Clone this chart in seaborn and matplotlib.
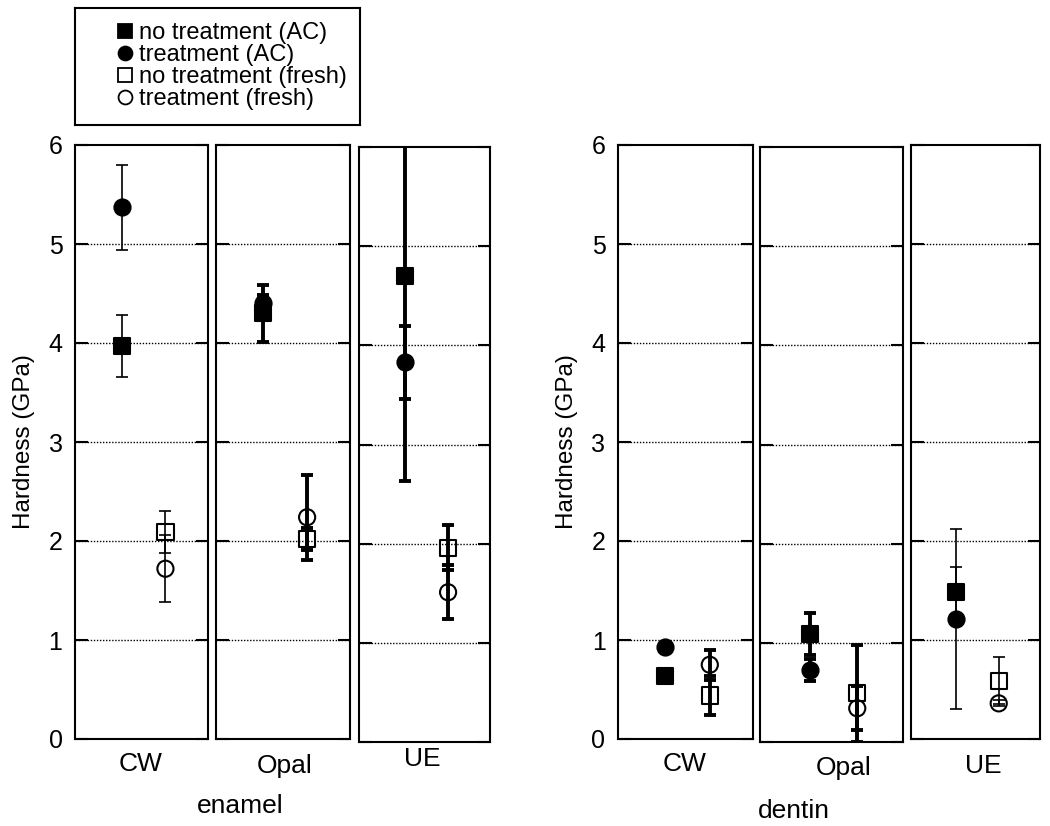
import numpy as np
import pandas as pd
import matplotlib
matplotlib.use("Agg")
import matplotlib.pyplot as plt
import seaborn as sns
from matplotlib.lines import Line2D

# ── DATA ──────────────────────────────────────────────────────
tissues   = ["enamel", "dentin"]
materials = ["CW", "Opal", "UE"]
series    = ["no treatment (AC)", "treatment (AC)",
             "no treatment (fresh)", "treatment (fresh)"]

# order: enamel CW, Opal, UE, dentin CW, Opal, UE
no_treat_ac     = [3.97, 4.30, 4.70, 0.64, 1.09, 1.48]
no_treat_ac_err = [0.31, 0.29, 2.07, 0.03, 0.21, 0.26]
treat_ac        = [5.37, 4.40, 3.83, 0.93, 0.73, 1.21]
treat_ac_err    = [0.43, 0.08, 0.37, 0.03, 0.11, 0.91]
no_treat_fr     = [2.09, 2.02, 1.96, 0.44, 0.49, 0.59]
no_treat_fr_err = [0.21, 0.11, 0.23, 0.20, 0.49, 0.24]
treat_fr        = [1.72, 2.24, 1.51, 0.75, 0.34, 0.36]
treat_fr_err    = [0.34, 0.43, 0.27, 0.15, 0.22, 0.03]

yticks = [0, 1, 2, 3, 4, 5, 6]

# ── LONG TABLE ────────────────────────────────────────────────
means = [no_treat_ac, treat_ac, no_treat_fr, treat_fr]
errs  = [no_treat_ac_err, treat_ac_err, no_treat_fr_err, treat_fr_err]
rows = []
for s, m, e in zip(series, means, errs):
    k = 0
    for t in tissues:
        for mat in materials:
            rows.append({"tissue": t, "material": mat, "series": s,
                         "sample": "fresh" if "fresh" in s else "AC",
                         "hardness": m[k], "err": e[k]})
            k += 1
df = pd.DataFrame(rows)

# ── STYLE ─────────────────────────────────────────────────────
sns.set_theme(style="white")
plt.rcParams["font.family"] = ["Liberation Sans", "DejaVu Sans"]
plt.rcParams["text.color"] = "black"
plt.rcParams["axes.labelcolor"] = "black"
plt.rcParams["ytick.color"] = "black"
plt.rcParams["xtick.color"] = "black"

xpos = {"AC": 0.35, "fresh": 0.68}
marker_style = {
    "no treatment (AC)":    dict(marker="s", facecolor="black"),
    "treatment (AC)":       dict(marker="o", facecolor="black"),
    "no treatment (fresh)": dict(marker="s", facecolor="none"),
    "treatment (fresh)":    dict(marker="o", facecolor="none"),
}
# error-bar weight per panel (thin / thick as in the original)
bar_lw = {("enamel", "CW"): 1.2, ("enamel", "Opal"): 2.8, ("enamel", "UE"): 2.8,
          ("dentin", "CW"): 2.8, ("dentin", "Opal"): 2.8, ("dentin", "UE"): 1.2}

# panel boxes in pixels: left, top, right, bottom
W, H = 1050, 826
boxes = {("enamel", "CW"):   (75, 145, 208, 739),
         ("enamel", "Opal"): (216, 145, 350, 739),
         ("enamel", "UE"):   (359, 147, 490, 742),
         ("dentin", "CW"):   (618, 145, 753, 739),
         ("dentin", "Opal"): (760, 147, 903, 742),
         ("dentin", "UE"):   (911, 145, 1040, 739)}
label_pos = {("enamel", "CW"): (141, 764), ("enamel", "Opal"): (285, 766),
             ("enamel", "UE"): (422, 759), ("dentin", "CW"): (685, 764),
             ("dentin", "Opal"): (844, 768), ("dentin", "UE"): (983, 766)}
group_pos = {"enamel": (240, 806), "dentin": (794, 811)}

fig = plt.figure(figsize=(10.5, 8.26), dpi=100)

for t in tissues:
    for i, mat in enumerate(materials):
        l, tp, r, b = boxes[(t, mat)]
        ax = fig.add_axes([l / W, 1 - b / H, (r - l) / W, (b - tp) / H])
        ax.set_xlim(0, 1)
        ax.set_ylim(0, 6)
        sub = df[(df.tissue == t) & (df.material == mat)].copy()
        sub["x"] = sub["sample"].map(xpos)

        for y in yticks[1:-1]:
            ax.axhline(y, color="black", lw=1.0, ls=(0, (1, 1.2)), zorder=1)

        lw = bar_lw[(t, mat)]
        for s in series:
            row = sub[sub.series == s]
            ax.errorbar(row["x"], row["hardness"], yerr=row["err"], fmt="none",
                        ecolor="black", elinewidth=lw, capsize=4, capthick=lw,
                        zorder=2)
        for s in series:
            row = sub[sub.series == s]
            st = marker_style[s]
            sns.scatterplot(data=row, x="x", y="hardness", ax=ax,
                            marker=st["marker"], s=135,
                            facecolor=st["facecolor"], edgecolor="black",
                            linewidth=1.5, zorder=3, legend=False)

        ax.set_xticks([])
        ax.set_yticks(yticks)
        ax.tick_params(axis="y", direction="in", length=9, width=1.5,
                       left=True, right=True, labelsize=18, pad=9,
                       colors="black")
        ax.set_xlabel("")
        if i > 0:
            ax.set_yticklabels([])
            ax.set_ylabel("")
        else:
            ax.set_ylabel("Hardness (GPa)", fontsize=17.5, labelpad=10,
                          color="black")
        for sp in ax.spines.values():
            sp.set_visible(True)
            sp.set_color("black")
            sp.set_linewidth(1.5)

        lx, ly = label_pos[(t, mat)]
        fig.text(lx / W, 1 - ly / H, mat, ha="center", va="center",
                 fontsize=19, color="black")
    gx, gy = group_pos[t]
    fig.text(gx / W, 1 - gy / H, t, ha="center", va="center",
             fontsize=19, color="black")

# ── LEGEND BOX ────────────────────────────────────────────────
lax = fig.add_axes([75 / W, 1 - 125 / H, (360 - 75) / W, (125 - 8) / H])
lax.set_xticks([]); lax.set_yticks([])
for sp in lax.spines.values():
    sp.set_visible(True)
    sp.set_color("black")
    sp.set_linewidth(1.5)
handles = [Line2D([], [], ls="none", marker=marker_style[s]["marker"],
                  markerfacecolor=marker_style[s]["facecolor"],
                  markeredgecolor="black", markersize=10, markeredgewidth=1.3)
           for s in series]
leg = lax.legend(handles, series, loc="center", bbox_to_anchor=(0.55, 0.5),
                 frameon=False, fontsize=17, handlelength=0.7,
                 handletextpad=0.25, labelspacing=0.0, borderpad=0)
for txt in leg.get_texts():
    txt.set_color("black")

fig.savefig("out.png", dpi=100)
